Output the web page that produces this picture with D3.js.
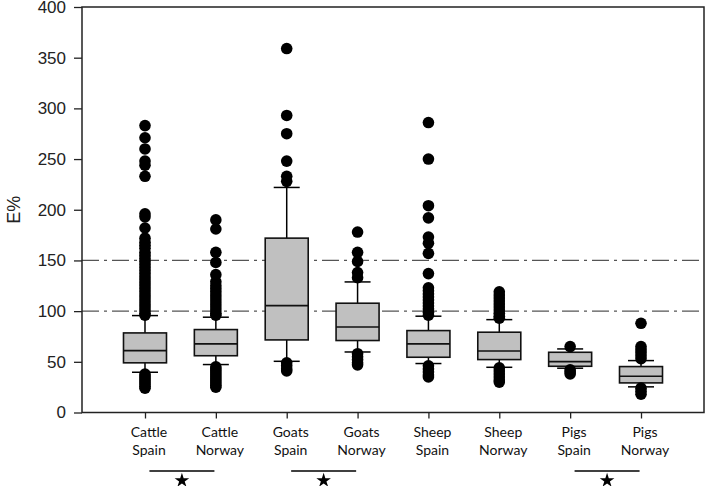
<!DOCTYPE html>
<html><head><meta charset="utf-8">
<script src="https://cdn.jsdelivr.net/npm/d3@7/dist/d3.min.js"></script>
<style>
html,body{margin:0;padding:0;background:#fff;}
svg{display:block;}
</style></head>
<body>
<svg id="chart" width="707" height="486"></svg>
<script>
const categories = ["Cattle Spain","Cattle Norway","Goats Spain","Goats Norway","Sheep Spain","Sheep Norway","Pigs Spain","Pigs Norway"];
const labelLine1 = ["Cattle","Cattle","Goats","Goats","Sheep","Sheep","Pigs","Pigs"];
const labelLine2 = ["Spain","Norway","Spain","Norway","Spain","Norway","Spain","Norway"];
const whiskerLow  = [39.7, 47.3, 50.5, 59.7, 48.3, 44.6, 43.7, 25.3];
const q1          = [49.0, 56.0, 71.6, 71.0, 54.5, 52.2, 45.6, 29.2];
const median      = [61.0, 67.7, 105.4, 84.4, 67.7, 60.7, 50.2, 35.8];
const q3          = [78.5, 81.8, 172.0, 107.8, 80.8, 79.2, 59.4, 45.3];
const whiskerHigh = [95.6, 94.0, 222.0, 128.8, 95.0, 91.6, 62.7, 51.2];
const outliers = [
  [283,271,260,248,244,233,196,193,182,172,168,165,162,158,155,152,149,146,143,140,137,134,131,128,125,122,119,116,113,110,107,104,101,98,96, 38,36,34,32,30,28,26,24],
  [190,181,158,148,136,129,125,122,119,116,113,110,107,104,101,98,96, 45,43,41,39,37,35,33,31,29,27,25],
  [359,293,275,248,233,228, 49,46,43,41],
  [178,158,149,138,133, 58,55,52,49,47],
  [286,250,204,192,173,167,157,137,123,120,117,114,111,108,105,102,99,96, 46,43,40,37,35],
  [119,116,113,110,107,104,101,98,95,93, 44,41,38,35,32,30],
  [65, 42,40,38],
  [88,65,62,59,56,53, 24,21,18]
];
const yTicks = [0,50,100,150,200,250,300,350,400];
const refLines = [100,150];
const sigPairs = [["Cattle Spain","Cattle Norway"],["Goats Spain","Goats Norway"],["Pigs Spain","Pigs Norway"]];

const svg = d3.select("#chart");
const mLeft = 82, mRight = 704, mTop = 7, mBottom = 412.5;

const x = d3.scalePoint().domain(categories).range([mLeft, mRight]).padding(0.889);
const y = d3.scaleLinear().domain([0, 400]).range([mBottom, mTop]);

// reference lines
svg.selectAll("line.ref").data(refLines).join("line").attr("class","ref")
  .attr("x1", mLeft).attr("x2", mRight)
  .attr("y1", d => y(d)).attr("y2", d => y(d))
  .attr("stroke", "#555").attr("stroke-width", 1.2)
  .attr("stroke-dasharray", "17,5,3,5");

const boxW = 43, capW = 26;
const g = svg.selectAll("g.box").data(categories).join("g").attr("class","box");

// whiskers
g.append("line").attr("x1", d => x(d)).attr("x2", d => x(d))
  .attr("y1", (d,i) => y(q3[i])).attr("y2", (d,i) => y(whiskerHigh[i]))
  .attr("stroke","#000").attr("stroke-width",1.5);
g.append("line").attr("x1", d => x(d)).attr("x2", d => x(d))
  .attr("y1", (d,i) => y(q1[i])).attr("y2", (d,i) => y(whiskerLow[i]))
  .attr("stroke","#000").attr("stroke-width",1.5);
g.append("line").attr("x1", d => x(d)-capW/2).attr("x2", d => x(d)+capW/2)
  .attr("y1", (d,i) => y(whiskerHigh[i])).attr("y2", (d,i) => y(whiskerHigh[i]))
  .attr("stroke","#000").attr("stroke-width",1.5);
g.append("line").attr("x1", d => x(d)-capW/2).attr("x2", d => x(d)+capW/2)
  .attr("y1", (d,i) => y(whiskerLow[i])).attr("y2", (d,i) => y(whiskerLow[i]))
  .attr("stroke","#000").attr("stroke-width",1.5);
// boxes
g.append("rect").attr("x", d => x(d)-boxW/2).attr("width", boxW)
  .attr("y", (d,i) => y(q3[i])).attr("height", (d,i) => y(q1[i]) - y(q3[i]))
  .attr("fill","#c0c0c0").attr("stroke","#111").attr("stroke-width",1.6);
g.append("line").attr("x1", d => x(d)-boxW/2).attr("x2", d => x(d)+boxW/2)
  .attr("y1", (d,i) => y(median[i])).attr("y2", (d,i) => y(median[i]))
  .attr("stroke","#111").attr("stroke-width",1.6);
// outliers
g.each(function(d,i){
  d3.select(this).selectAll("circle").data(outliers[i]).join("circle")
    .attr("cx", x(d)).attr("cy", v => y(v)).attr("r", 5.8).attr("fill","#000");
});

// frame
svg.append("rect").attr("x", mLeft).attr("y", mTop).attr("width", mRight-mLeft).attr("height", mBottom-mTop)
  .attr("fill","none").attr("stroke","#222").attr("stroke-width",1.5);

// y axis
const yAxis = svg.append("g").attr("transform", `translate(${mLeft},0)`)
  .call(d3.axisLeft(y).tickValues(yTicks).tickSize(8).tickPadding(8));
yAxis.select(".domain").remove();
yAxis.selectAll("line").attr("stroke","#222").attr("stroke-width",1.3);
yAxis.selectAll("text").attr("font-family","Liberation Sans, Arial, sans-serif").attr("font-size",17).attr("fill","#222");

svg.append("text").attr("transform", `translate(20,${(mTop+mBottom)/2}) rotate(-90)`)
  .attr("text-anchor","middle").attr("font-family","Liberation Sans, Arial, sans-serif")
  .attr("font-size",18).attr("fill","#222").text("E%");

// x axis ticks
const xAxis = svg.append("g").attr("transform", `translate(0,${mBottom})`)
  .call(d3.axisBottom(x).tickSize(6).tickFormat(""));
xAxis.select(".domain").remove();
xAxis.selectAll("line").attr("stroke","#222").attr("stroke-width",1.3);

const lab = svg.selectAll("text.xl").data(categories).join("text").attr("class","xl")
  .attr("text-anchor","middle").attr("font-family","Lato, Carlito, sans-serif")
  .attr("font-size",14).attr("fill","#111");
lab.append("tspan").attr("x", d => x(d) + 4).attr("y", 437).text((d,i) => labelLine1[i]);
lab.append("tspan").attr("x", d => x(d) + 4).attr("y", 454.5).text((d,i) => labelLine2[i]);

// significance
const sg = svg.selectAll("g.sig").data(sigPairs).join("g").attr("class","sig");
sg.append("line")
  .attr("x1", d => (x(d[0])+x(d[1]))/2 - 31).attr("x2", d => (x(d[0])+x(d[1]))/2 + 34)
  .attr("y1", 471).attr("y2", 471).attr("stroke","#000").attr("stroke-width",1.6);
sg.append("path")
  .attr("d", d3.symbol(d3.symbolStar).size(66))
  .attr("transform", d => `translate(${(x(d[0])+x(d[1]))/2 + 1.5},480.5)`)
  .attr("fill","#000");
</script>
</body></html>
